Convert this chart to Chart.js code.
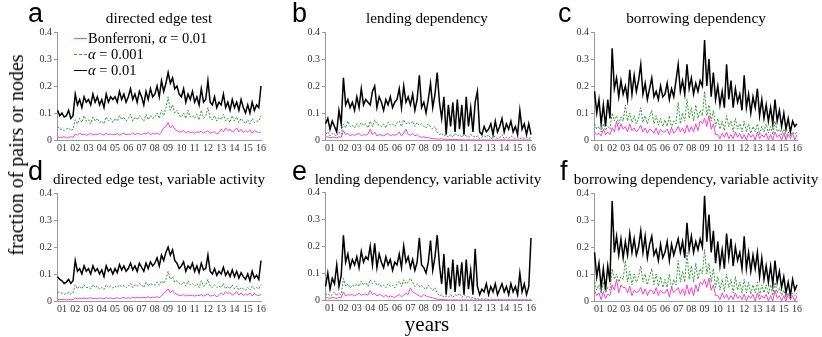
<!DOCTYPE html>
<html>
<head>
<meta charset="utf-8">
<script src="https://cdn.jsdelivr.net/npm/chart.js@4.4.1/dist/chart.umd.min.js"></script>
<style>
  body { margin: 0; width: 822px; height: 337px; position: relative; overflow: hidden; background: #fff; font-family: "Liberation Serif", "DejaVu Serif", serif; }
  canvas { position: absolute; }
  .txt { position: absolute; white-space: nowrap; color: #000; line-height: 1; }
  .title { font-size: 15.2px; transform: translateX(-50%); }
  .letter { font-family: "Liberation Sans", Arial, sans-serif; font-size: 27px; }
  .leg { font-size: 14.5px; }
  .legline { position: absolute; width: 13px; height: 0; }
</style>
</head>
<body>
<canvas id="ca"></canvas><canvas id="cb"></canvas><canvas id="cc"></canvas>
<canvas id="cd"></canvas><canvas id="ce"></canvas><canvas id="cf"></canvas>

<div class="txt letter" style="left:28px;top:0px">a</div>
<div class="txt letter" style="left:292px;top:0px">b</div>
<div class="txt letter" style="left:558px;top:0px">c</div>
<div class="txt letter" style="left:28px;top:158px">d</div>
<div class="txt letter" style="left:292px;top:158px">e</div>
<div class="txt letter" style="left:560px;top:158px">f</div>

<div class="txt title" style="left:159px;top:10px">directed edge test</div>
<div class="txt title" style="left:427px;top:10px">lending dependency</div>
<div class="txt title" style="left:696px;top:10px">borrowing dependency</div>
<div class="txt title" style="left:159px;top:171px">directed edge test, variable activity</div>
<div class="txt title" style="left:428px;top:171px">lending dependency, variable activity</div>
<div class="txt title" style="left:696px;top:171px">borrowing dependency, variable activity</div>

<div class="txt" style="left:16px;top:155px;font-size:20px;transform:translate(-50%,-50%) rotate(-90deg)">fraction of pairs or nodes</div>
<div class="txt" style="left:427px;top:324px;font-size:21px;transform:translate(-50%,-50%)">years</div>

<div class="legline" style="left:74px;top:38px;border-top:1.2px solid #ff3fcf"></div>
<div class="txt leg" style="left:88px;top:31px">Bonferroni, <i>α</i> = 0.01</div>
<div class="legline" style="left:74px;top:54px;border-top:1px dashed #2e9a2e"></div>
<div class="txt leg" style="left:88px;top:47px"><i>α</i> = 0.001</div>
<div class="legline" style="left:74px;top:70px;border-top:1.5px solid #000"></div>
<div class="txt leg" style="left:88px;top:63px"><i>α</i> = 0.01</div>

<script>
// year tick labels
const YEARS = ['01','02','03','04','05','06','07','08','09','10','11','12','13','14','15','16'];
// samples every two months, first one in autumn 2000, last at start of 2016
const T0 = 1 - 2 / 6, DT = 1 / 6;
const SERIES_NAMES = ['Bonferroni, α = 0.01', 'α = 0.001', 'α = 0.01'];

// a: directed edge test
const A_BONF = [.012,.01, .01,.012,.008,.01,.012,.01, .022,.018,.025,.02,.022,.018, .02,.025,.018,.022,.02,.024,
  .022,.018,.025,.02,.022,.02, .02,.024,.018,.022,.025,.02, .022,.02,.026,.02,.024,.022, .02,.025,.022,.028,.02,.024,
  .022,.026,.02,.03,.045,.05, .065,.045,.055,.04,.035,.03, .03,.035,.025,.032,.028,.03, .025,.03,.028,.033,.025,.03,
  .035,.025,.028,.03,.022,.027, .04,.03,.045,.035,.04,.03, .035,.045,.03,.04,.028,.035, .03,.038,.025,.035,.03,.028, .03];
const A_001 = [.05,.04, .04,.035,.04,.045,.035,.04, .075,.06,.08,.065,.09,.07, .075,.06,.085,.07,.08,.065,
  .07,.06,.085,.07,.08,.065, .08,.07,.09,.075,.085,.07, .08,.095,.07,.085,.075,.09, .08,.07,.095,.075,.09,.08,
  .085,.10,.08,.11,.09,.12, .16,.11,.13,.10,.11,.09, .085,.10,.08,.11,.085,.09, .08,.095,.075,.11,.08,.09,
  .12,.08,.075,.09,.07,.085, .075,.095,.07,.08,.065,.09, .07,.085,.065,.08,.07,.06, .075,.06,.08,.065,.07,.07, .09];
const A_01 = [.11,.09, .10,.085,.09,.11,.08,.09, .17,.13,.15,.12,.16,.14, .15,.13,.17,.14,.16,.13,
  .15,.12,.17,.14,.16,.15, .16,.14,.18,.15,.17,.14, .16,.19,.15,.17,.14,.18, .16,.13,.18,.15,.19,.16,
  .17,.20,.16,.22,.18,.21, .25,.21,.23,.19,.20,.17, .16,.19,.14,.17,.15,.18, .14,.16,.13,.19,.14,.15,
  .22,.14,.13,.16,.12,.14, .13,.17,.12,.14,.11,.15, .12,.14,.11,.15,.12,.10, .13,.10,.14,.11,.13,.12, .20];

// b: lending dependency
const B_BONF = [.01,.012, .008,.01,.01,.008,.012,.01, .035,.02,.025,.015,.02,.018, .02,.025,.015,.02,.018,.022,
  .04,.02,.03,.015,.02,.018, .015,.02,.025,.015,.02,.018, .02,.03,.015,.025,.04,.02, .018,.025,.015,.02,.012,.01,
  .012,.008,.01,.006,.005,.004, .004,.003,.005,.002,.003,.002, .002,.002,.001,.002,.001,.001, 0,0,.001,0,0,0,
  0,0,0,0,0,0, 0,0,0,0,0,0, 0,0,0,0,0,0, 0,0,0,0,0,0, 0];
const B_001 = [.02,.03, .015,.025,.02,.015,.03,.02, .06,.045,.07,.05,.055,.045, .06,.05,.065,.055,.06,.045,
  .07,.05,.075,.06,.055,.05, .06,.045,.065,.055,.06,.05, .065,.07,.05,.075,.06,.065, .06,.07,.05,.065,.055,.06,
  .05,.045,.06,.05,.04,.05, .03,.02,.025,.015,.02,.01, .02,.01,.025,.015,.02,.01, .02,.015,.01,.02,.015,.01,
  .015,.005,.01,.015,.01,.02, .005,.01,.015,.005,.01,.02, .005,.01,.005,.015,.01,.005, .01,.005,.01,.005,.01,.005, .01];
const B_01 = [.06,.08, .04,.07,.05,.03,.11,.06, .23,.13,.15,.12,.14,.11, .16,.12,.19,.13,.15,.14,
  .13,.18,.20,.12,.16,.14, .11,.15,.13,.16,.12,.14, .15,.19,.12,.20,.14,.16, .13,.17,.11,.15,.24,.12,
  .14,.10,.15,.21,.12,.17, .25,.14,.08,.16,.02,.13, .05,.14,.03,.15,.04,.13, .02,.16,.05,.12,.03,.14,
  .18,.03,.02,.05,.03,.04, .06,.02,.07,.03,.05,.08, .03,.06,.04,.07,.03,.05, .02,.11,.04,.06,.02,.06, .02];

// c: borrowing dependency
const C_BONF = [.03,.02, .025,.015,.04,.02,.03,.02, .045,.03,.07,.035,.06,.04, .05,.03,.06,.035,.045,.03,
  .04,.055,.03,.045,.025,.04, .035,.025,.045,.02,.04,.03, .03,.04,.02,.045,.025,.035, .05,.03,.045,.025,.055,.03,
  .05,.03,.06,.035,.07,.06, .08,.05,.09,.04,.06,.02, .02,.005,.025,.01,.03,.005, .02,.005,.03,.01,.025,.005,
  .02,0,.025,.01,.02,0, .03,.005,.02,.01,.025,0, .02,0,.03,.01,.02,0, .025,0,.02,.005,.025,0, .02];
const C_001 = [.06,.04, .05,.03,.06,.035,.05,.04, .10,.07,.09,.06,.085,.07, .13,.07,.10,.065,.09,.06,
  .08,.12,.065,.09,.06,.085, .11,.06,.09,.055,.08,.05, .075,.05,.09,.045,.07,.06, .14,.06,.10,.07,.15,.08,
  .12,.07,.13,.08,.11,.09, .18,.09,.13,.07,.11,.05, .08,.04,.07,.035,.09,.05, .07,.03,.08,.04,.06,.03,
  .07,.03,.06,.025,.05,.03, .06,.02,.05,.03,.06,.025, .05,.02,.07,.03,.04,.02, .04,.01,.03,.015,.03,.02, .03];
const C_01 = [.18,.10, .15,.06,.13,.05,.15,.08, .34,.19,.23,.16,.22,.17, .20,.15,.26,.17,.24,.18,
  .22,.28,.17,.21,.15,.19, .23,.16,.18,.15,.20,.16, .17,.21,.15,.19,.16,.22, .28,.18,.22,.17,.28,.19,
  .23,.17,.21,.18,.22,.20, .37,.20,.30,.16,.25,.15, .20,.13,.18,.12,.28,.15, .22,.12,.19,.14,.17,.11,
  .24,.12,.17,.10,.16,.12, .19,.09,.15,.08,.13,.07, .12,.06,.15,.07,.11,.05, .10,.04,.08,.03,.07,.05, .06];

// d: directed edge test, variable activity
const D_BONF = [.006,.005, .005,.006,.004,.006,.005,.005, .012,.008,.01,.009,.011,.008, .01,.012,.008,.01,.009,.011,
  .01,.008,.012,.01,.011,.009, .01,.012,.009,.011,.013,.01, .012,.01,.014,.011,.013,.012, .012,.014,.011,.016,.012,.014,
  .013,.016,.012,.018,.03,.035, .045,.03,.04,.028,.025,.02, .02,.024,.018,.022,.02,.021, .018,.022,.02,.024,.018,.022,
  .026,.018,.02,.022,.016,.02, .03,.022,.035,.028,.032,.022, .026,.035,.022,.03,.02,.026, .022,.03,.018,.028,.022,.02, .025];
const D_001 = [.035,.03, .03,.025,.028,.032,.025,.03, .06,.045,.055,.045,.06,.05, .05,.045,.06,.05,.055,.045,
  .05,.042,.06,.05,.055,.048, .055,.05,.06,.052,.058,.05, .055,.065,.05,.06,.055,.065, .06,.05,.07,.055,.065,.06,
  .06,.07,.058,.075,.065,.08, .11,.08,.09,.07,.075,.065, .06,.07,.055,.075,.06,.065, .055,.065,.05,.075,.055,.06,
  .08,.055,.05,.06,.05,.055, .05,.065,.045,.055,.045,.06, .045,.055,.04,.05,.045,.04, .05,.04,.055,.045,.05,.045, .06];
const D_01 = [.09,.08, .075,.065,.07,.08,.065,.075, .15,.11,.12,.10,.13,.11, .12,.10,.13,.11,.12,.10,
  .115,.09,.13,.11,.12,.10, .12,.105,.135,.115,.13,.11, .12,.14,.115,.13,.11,.14, .125,.11,.14,.12,.145,.13,
  .14,.16,.13,.17,.15,.18, .20,.17,.19,.15,.14,.12, .13,.145,.11,.13,.12,.14, .11,.13,.105,.14,.115,.12,
  .17,.11,.10,.12,.095,.11, .10,.125,.095,.11,.09,.115, .09,.11,.085,.105,.09,.08, .10,.075,.11,.085,.095,.08, .15];

// e: lending dependency, variable activity
const E_BONF = [.01,.008, .006,.01,.008,.005,.01,.008, .03,.015,.02,.018,.02,.015, .02,.025,.018,.02,.022,.018,
  .035,.02,.025,.015,.02,.018, .012,.018,.01,.015,.012,.01, .015,.02,.012,.018,.025,.02, .045,.03,.025,.02,.015,.012,
  .02,.015,.012,.01,.008,.005, .003,.002,.002,.001,.001,0, 0,0,0,0,0,0, 0,0,0,0,0,0,
  0,0,0,0,0,0, 0,0,0,0,0,0, 0,0,0,0,0,0, 0,0,0,0,0,0, 0];
const E_001 = [.02,.025, .015,.02,.03,.015,.025,.02, .08,.05,.06,.045,.055,.05, .06,.05,.07,.055,.065,.05,
  .075,.06,.07,.055,.06,.05, .055,.045,.06,.05,.055,.045, .06,.07,.05,.075,.06,.065, .08,.065,.05,.06,.05,.055,
  .045,.04,.055,.045,.035,.045, .025,.015,.02,.01,.015,.01, .02,.01,.02,.015,.025,.01, .02,.01,.015,.005,.01,.005,
  .005,.002,.005,.002,.005,.002, 0,.002,0,.002,0,0, 0,0,0,0,0,0, 0,0,0,0,0,0, 0];
const E_01 = [.05,.10, .04,.08,.06,.13,.05,.09, .24,.14,.17,.12,.15,.13, .16,.12,.18,.14,.16,.15,
  .20,.13,.21,.12,.17,.14, .12,.16,.13,.15,.11,.14, .13,.17,.12,.20,.14,.16, .12,.15,.11,.14,.23,.13,
  .12,.10,.14,.22,.11,.16, .24,.13,.06,.17,.02,.12, .04,.15,.03,.13,.05,.14, .02,.15,.04,.11,.02,.19,
  .05,.02,.04,.03,.06,.02, .05,.03,.06,.02,.04,.06, .03,.05,.02,.06,.03,.05, .02,.10,.03,.06,.02,.05, .23];

// f: borrowing dependency, variable activity
const F_BONF = [.04,.02, .03,.005,.035,.01,.025,.02, .06,.04,.08,.03,.06,.05, .05,.03,.055,.02,.04,.03,
  .035,.05,.025,.045,.02,.04, .04,.025,.05,.02,.04,.03, .03,.045,.015,.05,.03,.04, .05,.025,.045,.02,.06,.025,
  .05,.02,.06,.035,.07,.06, .08,.05,.085,.04,.06,.02, .02,.005,.03,.01,.025,.005, .02,.005,.03,.01,.02,.005,
  .025,0,.02,.01,.025,0, .03,.005,.02,.01,.025,0, .02,0,.04,.01,.02,0, .02,0,.025,.005,.02,0, .02];
const F_001 = [.07,.04, .06,.03,.07,.03,.05,.04, .12,.08,.10,.07,.09,.08, .15,.07,.11,.06,.10,.07,
  .09,.13,.07,.10,.06,.09, .12,.06,.10,.055,.09,.05, .08,.05,.10,.045,.08,.06, .15,.07,.11,.07,.18,.08,
  .13,.07,.14,.08,.12,.10, .19,.10,.14,.07,.12,.05, .09,.04,.08,.035,.10,.05, .08,.03,.09,.04,.07,.03,
  .08,.03,.07,.025,.06,.03, .07,.02,.06,.03,.06,.025, .06,.02,.07,.03,.05,.02, .04,.01,.03,.015,.03,.02, .03];
const F_01 = [.18,.09, .14,.05,.12,.04,.13,.07, .37,.18,.24,.17,.23,.16, .22,.17,.25,.18,.23,.17,
  .20,.26,.18,.24,.16,.21, .24,.17,.19,.15,.21,.16, .18,.22,.15,.21,.17,.20, .23,.18,.22,.16,.29,.19,
  .24,.18,.22,.19,.23,.20, .39,.22,.32,.18,.26,.14, .22,.13,.19,.12,.25,.16, .23,.13,.20,.15,.18,.12,
  .24,.12,.18,.11,.17,.12, .18,.09,.16,.08,.13,.07, .13,.06,.15,.07,.11,.05, .09,.03,.07,.02,.08,.04, .06];

// where each plot box sits on the page (axis x, right edge, top = 0.4, bottom = 0)
const panels = [
  { id: 'ca', x: 57,  r: 262, t: 30,  b: 140, data: [A_BONF, A_001, A_01] },
  { id: 'cb', x: 325, r: 532, t: 30,  b: 140, data: [B_BONF, B_001, B_01] },
  { id: 'cc', x: 594, r: 798, t: 30,  b: 140, data: [C_BONF, C_001, C_01] },
  { id: 'cd', x: 57,  r: 262, t: 191, b: 301, data: [D_BONF, D_001, D_01] },
  { id: 'ce', x: 325, r: 532, t: 190, b: 300, data: [E_BONF, E_001, E_01] },
  { id: 'cf', x: 594, r: 798, t: 191, b: 301, data: [F_BONF, F_001, F_01] },
];

const YW = 30, XH = 20, PT = 6, PR = 6;
const tickFont = { family: 'Liberation Serif', size: 10 };
const styles = [
  { borderColor: '#ff3fcf', borderWidth: 1 },
  { borderColor: '#2e9a2e', borderWidth: 1, borderDash: [2, 1.5] },
  { borderColor: '#000000', borderWidth: 1.5 },
];

const toPoints = vals => vals.map((v, i) => ({ x: T0 + i * DT, y: v }));

panels.forEach(p => {
  const cv = document.getElementById(p.id);
  const w = YW + (p.r - p.x) + PR, h = PT + (p.b - p.t) + XH;
  cv.width = w; cv.height = h;
  cv.style.left = (p.x - YW) + 'px';
  cv.style.top = (p.t - PT) + 'px';
  new Chart(cv, {
    type: 'line',
    data: {
      datasets: p.data.map((vals, k) => Object.assign({
        label: SERIES_NAMES[k],
        data: toPoints(vals),
        pointRadius: 0,
        tension: 0,
        clip: 3
      }, styles[k]))
    },
    options: {
      responsive: false,
      animation: false,
      devicePixelRatio: 1,
      layout: { padding: { top: PT, right: PR, left: 0, bottom: 0 }, autoPadding: false },
      plugins: { legend: { display: false }, tooltip: { enabled: false } },
      scales: {
        x: {
          type: 'linear', min: 0.625, max: 16,
          afterFit: s => { s.height = XH; },
          afterBuildTicks: s => { s.ticks = YEARS.map((_, i) => ({ value: i + 1 })); },
          ticks: { autoSkip: false, maxRotation: 0, padding: 2, color: '#333', font: tickFont,
                   callback: v => YEARS[v - 1] },
          grid: { display: true, drawOnChartArea: false, drawTicks: false, color: '#999' },
          border: { display: true, color: '#999' }
        },
        y: {
          min: 0, max: 0.4,
          afterFit: s => { s.width = YW; },
          ticks: { stepSize: 0.1, padding: 2, color: '#333', font: tickFont,
                   callback: v => v === 0 ? '0' : v.toFixed(1) },
          grid: { display: true, drawOnChartArea: false, drawTicks: true, tickLength: 3, color: '#999' },
          border: { display: true, color: '#999' }
        }
      }
    }
  });
});
</script>
</body>
</html>
